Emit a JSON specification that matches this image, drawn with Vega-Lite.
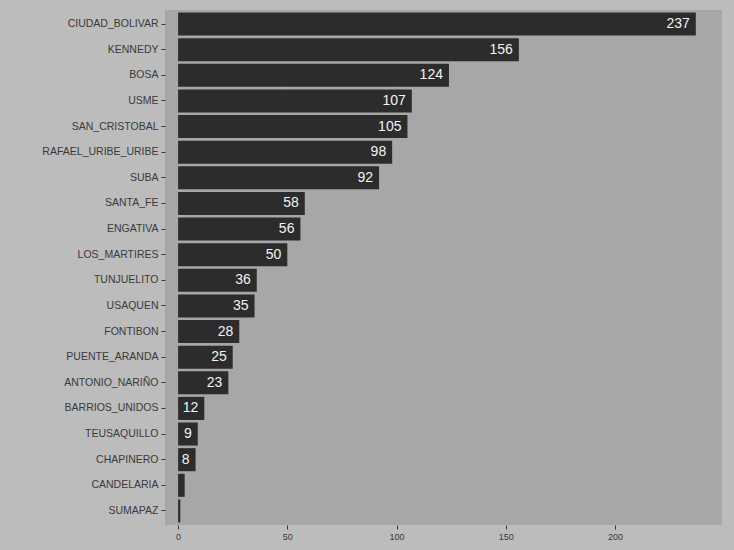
{
  "$schema": "https://vega.github.io/schema/vega-lite/v6.json",
  "autosize": {"type": "none"},
  "padding": {"left": 165, "top": 10, "right": 12, "bottom": 25},
  "width": 557,
  "height": 515,
  "background": "#bcbcbc",
  "config": {
    "view": {"fill": "#a7a7a7", "stroke": null},
    "font": "Liberation Sans"
  },
  "data": {
    "values": [
      {"localidad": "CIUDAD_BOLIVAR", "casos": 237},
      {"localidad": "KENNEDY", "casos": 156},
      {"localidad": "BOSA", "casos": 124},
      {"localidad": "USME", "casos": 107},
      {"localidad": "SAN_CRISTOBAL", "casos": 105},
      {"localidad": "RAFAEL_URIBE_URIBE", "casos": 98},
      {"localidad": "SUBA", "casos": 92},
      {"localidad": "SANTA_FE", "casos": 58},
      {"localidad": "ENGATIVA", "casos": 56},
      {"localidad": "LOS_MARTIRES", "casos": 50},
      {"localidad": "TUNJUELITO", "casos": 36},
      {"localidad": "USAQUEN", "casos": 35},
      {"localidad": "FONTIBON", "casos": 28},
      {"localidad": "PUENTE_ARANDA", "casos": 25},
      {"localidad": "ANTONIO_NARIÑO", "casos": 23},
      {"localidad": "BARRIOS_UNIDOS", "casos": 12},
      {"localidad": "TEUSAQUILLO", "casos": 9},
      {"localidad": "CHAPINERO", "casos": 8},
      {"localidad": "CANDELARIA", "casos": 3},
      {"localidad": "SUMAPAZ", "casos": 1}
    ]
  },
  "encoding": {
    "y": {
      "field": "localidad",
      "type": "nominal",
      "sort": ["CIUDAD_BOLIVAR", "KENNEDY", "BOSA", "USME", "SAN_CRISTOBAL", "RAFAEL_URIBE_URIBE", "SUBA", "SANTA_FE", "ENGATIVA", "LOS_MARTIRES", "TUNJUELITO", "USAQUEN", "FONTIBON", "PUENTE_ARANDA", "ANTONIO_NARIÑO", "BARRIOS_UNIDOS", "TEUSAQUILLO", "CHAPINERO", "CANDELARIA", "SUMAPAZ"],
      "scale": {"paddingInner": 0.1, "paddingOuter": 0.1},
      "axis": {
        "title": null,
        "domain": false,
        "labelFontSize": 10.5,
        "labelColor": "#3a3a3a",
        "tickColor": "#3a3a3a",
        "tickSize": 4,
        "labelPadding": 3
      }
    },
    "x": {
      "field": "casos",
      "type": "quantitative",
      "scale": {"domain": [-6, 249], "nice": false, "zero": false},
      "axis": {
        "title": null,
        "values": [0, 50, 100, 150, 200],
        "domain": false,
        "grid": true,
        "gridColor": "#acacac",
        "gridWidth": 0.5,
        "labelFontSize": 9,
        "labelColor": "#3a3a3a",
        "tickColor": "#3a3a3a",
        "tickSize": 4,
        "labelPadding": 3
      }
    }
  },
  "layer": [
    {
      "mark": {"type": "bar", "color": "#2c2c2c"}
    },
    {
      "transform": [{"filter": "datum.casos > 5"}],
      "mark": {"type": "text", "align": "right", "baseline": "middle", "dx": -6, "fontSize": 14, "color": "#f2f2f2"},
      "encoding": {"text": {"field": "casos", "type": "quantitative"}}
    }
  ]
}
